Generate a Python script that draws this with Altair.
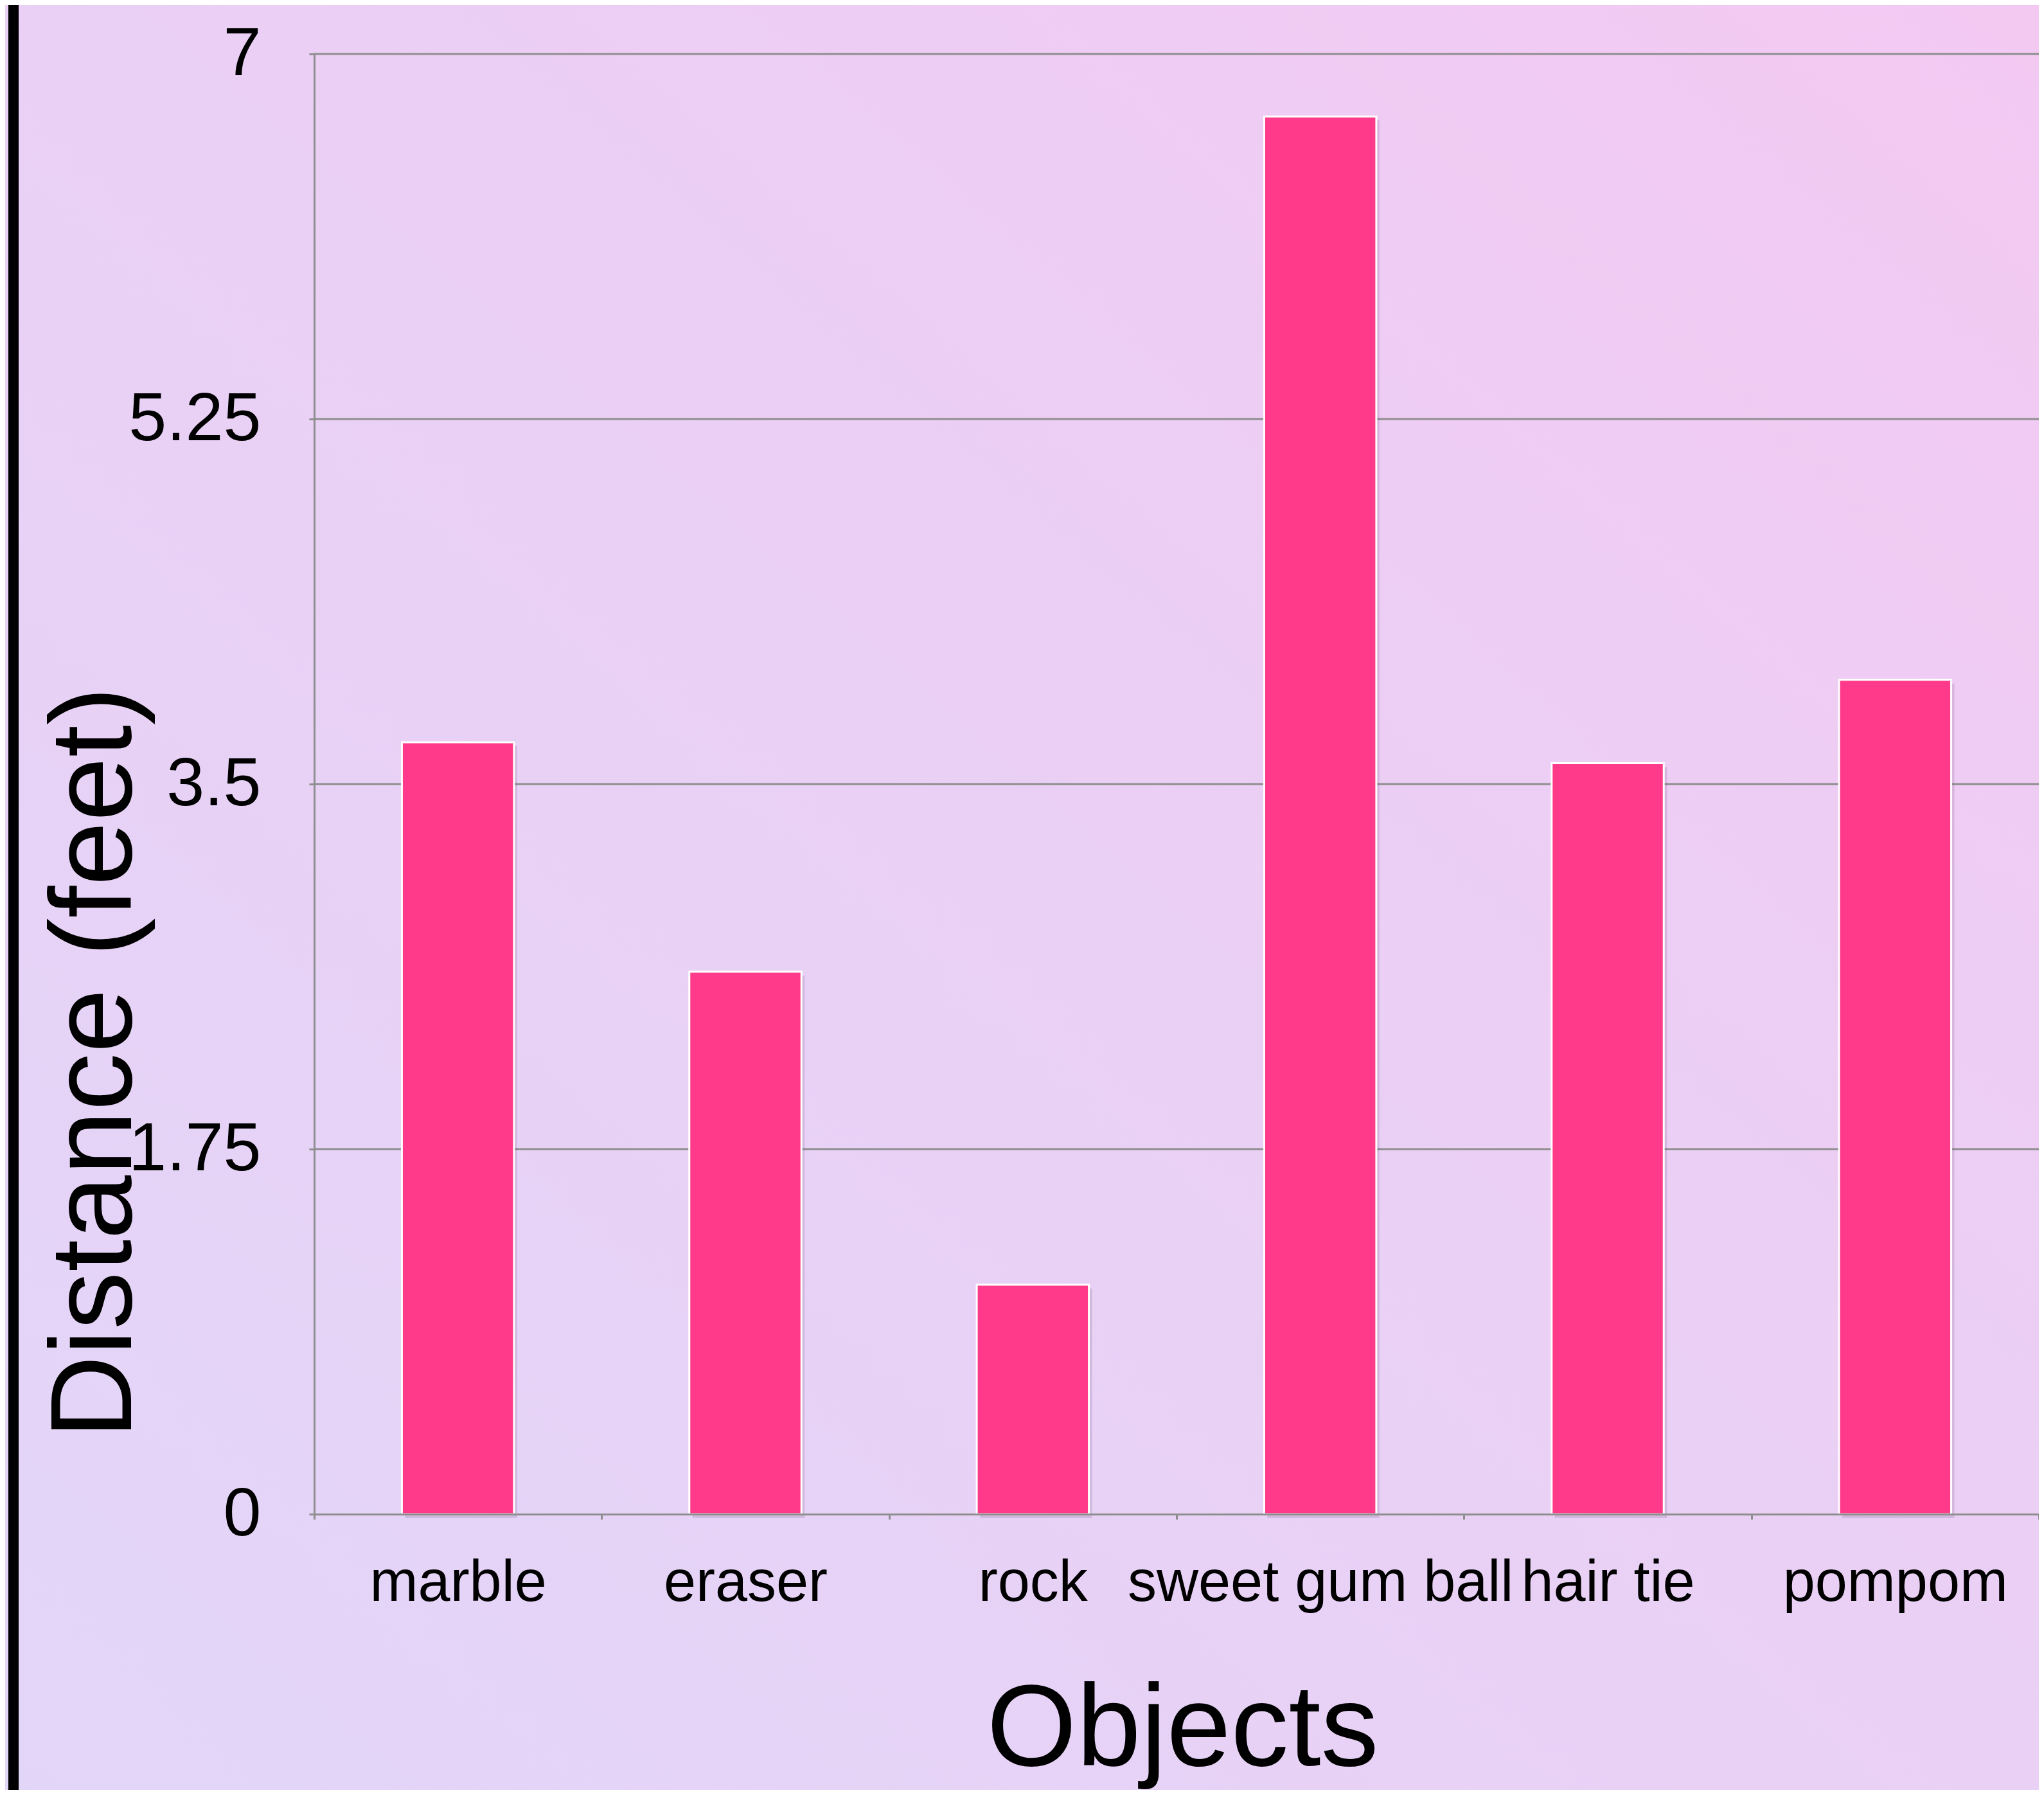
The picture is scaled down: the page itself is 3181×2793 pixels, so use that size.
import altair as alt
import pandas as pd

# ---- data ----
objects = ["marble", "eraser", "rock", "sweet gum ball", "hair tie", "pompom"]
distances = [3.7, 2.6, 1.1, 6.7, 3.6, 4.0]
y_ticks = [0, 1.75, 3.5, 5.25, 7]
grid_values = [1.75, 3.5, 5.25, 7]

W, H = 2684, 2272
PAD_L, PAD_T, PAD_B = 481, 76, 429
FONT = "Liberation Sans"
GRAY = "#8e8e8e"
BAR = "#FF3A8A"

df = pd.DataFrame({"object": objects, "distance": distances})
grid_df = pd.DataFrame({"distance": grid_values})
one = pd.DataFrame({"a": [0]})

gradient = {
    "gradient": "linear",
    "x1": 0, "y1": 1, "x2": 1, "y2": 0,
    "stops": [
        {"offset": 0, "color": "#E2D6F8"},
        {"offset": 0.5, "color": "#EAD0F5"},
        {"offset": 1, "color": "#F3C9F2"},
    ],
}

y_scale = alt.Scale(domain=[0, 7], nice=False, zero=True)
x_scale = alt.Scale(domain=objects, paddingInner=0, paddingOuter=0)

x_axis = alt.Axis(
    title="Objects", tickBand="extent", labelAngle=0,
    domainColor=GRAY, domainWidth=3, tickColor=GRAY, tickWidth=3, tickSize=8,
    labelFont=FONT, labelFontSize=90, labelColor="black",
    labelBaseline="alphabetic", labelPadding=126, labelLimit=1000,
    labelOverlap=False,
    titleFont=FONT, titleFontSize=180, titleFontWeight="normal",
    titleColor="black", titleBaseline="alphabetic", titleY=390, titleX=1351,
    zindex=1,
)
y_axis = alt.Axis(
    values=y_ticks, labelExpr="'' + datum.value", grid=False,
    domainColor=GRAY, domainWidth=3, tickColor=GRAY, tickWidth=3, tickSize=8,
    labelFont=FONT, labelFontSize=106, labelColor="black", labelPadding=75,
    labelLimit=1000, labelOverlap=False,
    title="Distance (feet)", titleFont=FONT, titleFontSize=180,
    titleFontWeight="normal", titleColor="black", titleAngle=270,
    titleX=-286, titleY=1569, titleAlign="center", titleBaseline="alphabetic",
    zindex=1,
)

X = alt.X("object:N", sort=objects, scale=x_scale, axis=x_axis)
Y = alt.Y("distance:Q", scale=y_scale, axis=y_axis)

background = alt.Chart(one).mark_rect(fill=gradient).encode(
    x=alt.value(-PAD_L), x2=alt.value(W + 20),
    y=alt.value(-PAD_T), y2=alt.value(H + PAD_B),
)

left_bar = alt.Chart(one).mark_rule(color="black", strokeWidth=16).encode(
    x=alt.value(-468), y=alt.value(-PAD_T), y2=alt.value(H + PAD_B),
)

grid = alt.Chart(grid_df).mark_rule(color=GRAY, strokeWidth=3).encode(y=Y)

shadow = alt.Chart(df).mark_bar(
    color="#6a4a7a", opacity=0.18, xOffset=5, yOffset=6,
    width=alt.RelativeBandSize(0.39),
).encode(x=X, y=Y)

bars = alt.Chart(df).mark_bar(
    color=BAR, stroke="white", strokeWidth=3,
    width=alt.RelativeBandSize(0.39),
).encode(x=X, y=Y)

chart = alt.layer(background, left_bar, grid, shadow, bars).properties(
    width=W, height=H,
    autosize=alt.AutoSizeParams(type="none"),
    padding={"left": PAD_L, "top": PAD_T, "right": 0, "bottom": PAD_B},
    background="#EAD0F5",
).configure_view(stroke=None)

chart.save("out.html", embed_options={"renderer": "svg", "actions": False})
